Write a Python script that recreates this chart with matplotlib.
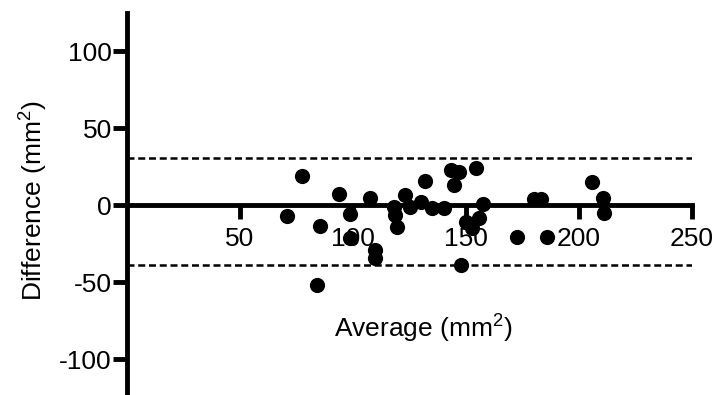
import matplotlib
matplotlib.use("Agg")
import matplotlib.pyplot as plt

plt.rcParams['font.family'] = ['Liberation Sans', 'DejaVu Sans']
plt.rcParams['mathtext.fontset'] = 'custom'
plt.rcParams['mathtext.rm'] = 'Liberation Sans'
plt.rcParams['axes.unicode_minus'] = False

average = [70.9, 77.6, 84.2, 85.5, 93.6, 98.9, 98.9, 107.6, 109.6, 109.6,
           118.0, 118.4, 119.5, 123.0, 125.4, 129.9, 132.0, 135.0, 140.2, 143.2,
           146.9, 144.7, 154.3, 147.6, 149.9, 152.8, 155.8, 157.5, 172.8, 186.0,
           180.2, 183.2, 206.0, 210.6, 211.3]
difference = [-7.0, 18.8, -52.0, -13.6, 7.0, -6.0, -21.6, 4.3, -29.0, -34.6,
              -1.0, -6.5, -14.0, 6.5, -1.0, 2.0, 15.8, -2.0, -2.0, 22.7,
              21.6, 13.0, 23.8, -39.0, -10.8, -15.0, -8.5, 1.0, -21.0, -20.6,
              3.7, 3.7, 15.0, 4.3, -5.0]
upper_loa = 30.5
lower_loa = -39.0
x_ticks = [50, 100, 150, 200, 250]
y_ticks = [-100, -50, 0, 50, 100]

fig = plt.figure(figsize=(7.2, 3.95), dpi=100)
ax = fig.add_axes([0.1764, 0.0015, 0.961 - 0.1764, 0.968 - 0.0015])

ax.scatter(average, difference, s=120, color='black', zorder=3, linewidths=0)
ax.plot([0, 250], [upper_loa, upper_loa], color='black', lw=1.8, ls=(0, (2.8, 1.5)))
ax.plot([0, 250], [lower_loa, lower_loa], color='black', lw=1.8, ls=(0, (2.8, 1.5)))

ax.set_xlim(0, 250)
ax.set_ylim(-123, 125)
ax.set_xticks(x_ticks)
ax.set_yticks(y_ticks)

ax.spines['top'].set_visible(False)
ax.spines['right'].set_visible(False)
ax.spines['bottom'].set_position(('data', 0))
ax.spines['left'].set_linewidth(3.5)
ax.spines['bottom'].set_linewidth(3.5)
ax.tick_params(axis='both', width=3.5, labelsize=19, colors='black')
ax.tick_params(axis='y', length=10, pad=1)
ax.tick_params(axis='x', length=10, pad=6)

fig.text(423 / 720, 1 - 328 / 395, 'Average (mm$^{\\mathregular{2}}$)', ha='center', va='center', fontsize=19)
fig.text(33 / 720, 1 - 201 / 395, 'Difference (mm$^{\\mathregular{2}}$)', ha='center', va='center', fontsize=19, rotation=90)

fig.savefig('out.png', dpi=100)
